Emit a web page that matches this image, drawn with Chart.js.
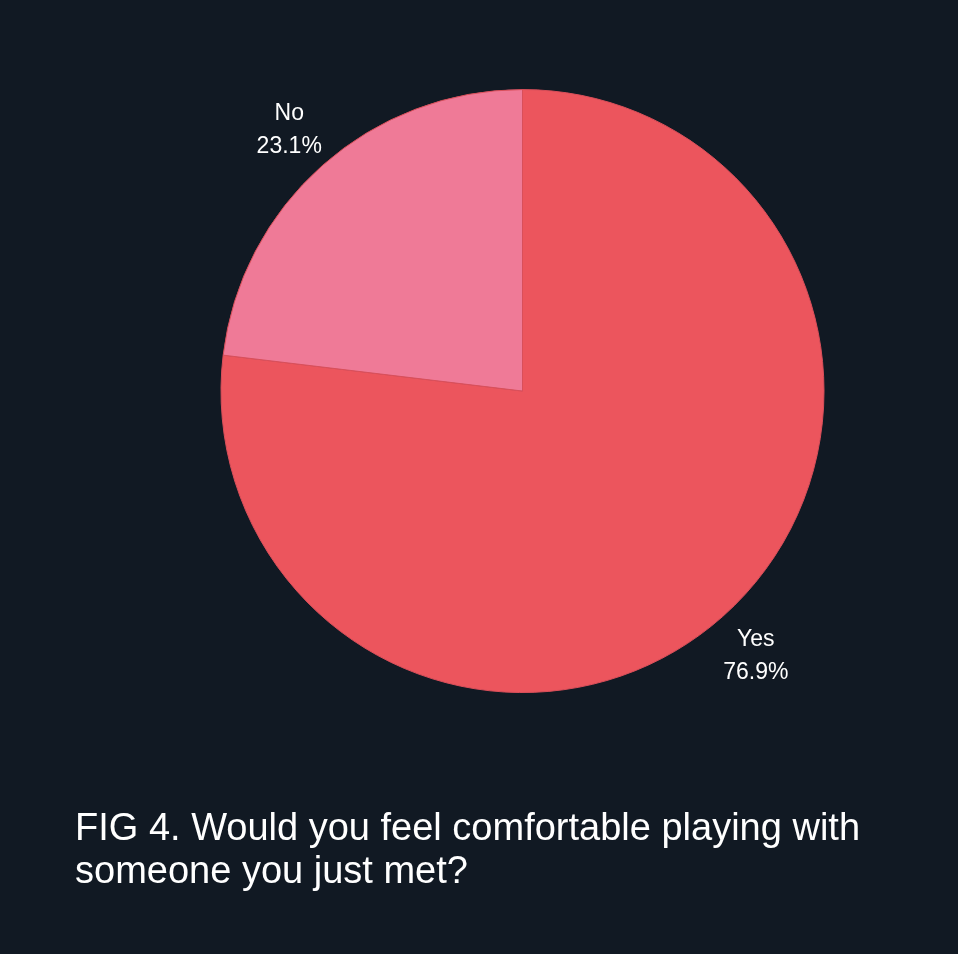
<!DOCTYPE html>
<html>
<head>
<meta charset="utf-8">
<title>FIG 4</title>
<script src="https://cdn.jsdelivr.net/npm/chart.js@4.4.1/dist/chart.umd.min.js"></script>
<style>
    html, body {
        margin: 0;
        padding: 0;
        background: #111923;
    }
    #myChart {
        display: block;
    }
</style>
</head>
<body>
<canvas id="myChart" width="958" height="954"></canvas>
<script>
const answers = ['Yes', 'No'];
const shares = [76.9, 23.1];
const sliceColors = ['#ec555d', '#ef7a97'];
const titleLines = ['FIG 4. Would you feel comfortable playing with', 'someone you just met?'];

// draws "label / value%" just outside each slice
const outsideLabels = {
    id: 'outsideLabels',
    afterDatasetsDraw(chart) {
        const ctx = chart.ctx;
        const meta = chart.getDatasetMeta(0);
        ctx.save();
        ctx.fillStyle = '#ffffff';
        ctx.font = '23px "Liberation Sans", Arial, sans-serif';
        ctx.textAlign = 'center';
        ctx.textBaseline = 'middle';
        meta.data.forEach((arc, i) => {
            const p = arc.getProps(['x', 'y', 'startAngle', 'endAngle', 'outerRadius'], true);
            const mid = (p.startAngle + p.endAngle) / 2;
            const r = p.outerRadius + 50;
            const x = p.x + Math.cos(mid) * r;
            const y = p.y + Math.sin(mid) * r + 2;
            ctx.fillText(chart.data.labels[i], x, y - 16.5);
            ctx.fillText(chart.data.datasets[0].data[i].toFixed(1) + '%', x, y + 16.5);
        });
        ctx.restore();
    }
};

const ctx = document.getElementById('myChart').getContext('2d');
const chart = new Chart(ctx, {
    type: 'pie',
    data: {
        labels: answers,
        datasets: [{
            data: shares,
            backgroundColor: sliceColors,
            borderColor: '#d94f5a',
            borderWidth: 1,
            radius: 301.5
        }]
    },
    options: {
        responsive: false,
        animation: false,
        layout: {
            padding: { left: 75, right: 0, top: 0, bottom: 60 }
        },
        plugins: {
            legend: { display: false },
            tooltip: { enabled: false },
            title: {
                display: true,
                text: titleLines,
                position: 'bottom',
                align: 'start',
                color: '#ffffff',
                font: {
                    family: '"Liberation Sans", Arial, sans-serif',
                    size: 38,
                    weight: 'normal',
                    lineHeight: 1.13
                },
                padding: { top: 26, bottom: 0 }
            },
            // empty spacer on the left so the pie sits a bit right of the caption's left edge
            subtitle: {
                display: true,
                text: ' ',
                position: 'left',
                font: { size: 10, lineHeight: 1.2 },
                padding: 0
            }
        }
    },
    plugins: [outsideLabels]
});
</script>
</body>
</html>
